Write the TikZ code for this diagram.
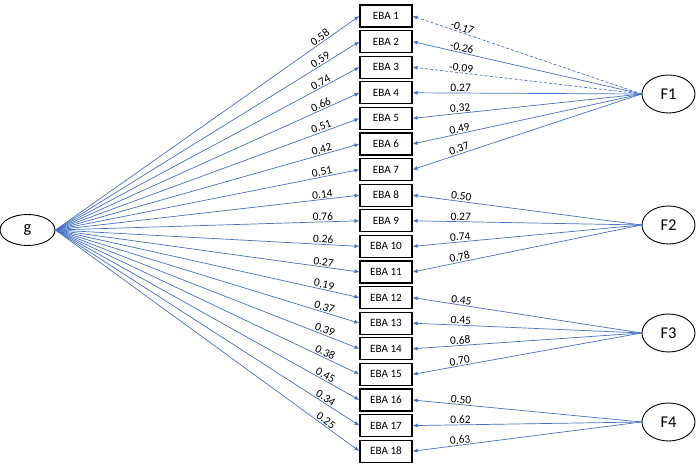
\documentclass[tikz,border=0pt]{standalone}
\usepackage{fontspec}
\setmainfont{Carlito}
\usepackage{tikz}
\usetikzlibrary{arrows.meta,positioning,shapes.geometric}
\definecolor{loadblue}{RGB}{68,114,196}
\tikzset{
  item/.style={draw=black, line width=1.1bp, minimum width=52bp, minimum height=22bp,
    inner sep=0pt, font=\fontsize{11.2}{13}\selectfont},
  latent/.style={draw=black, ellipse, line width=0.9bp, minimum width=53bp,
    minimum height=38bp, inner sep=0pt, font=\fontsize{16.5}{19}\selectfont},
  arr/.style={-{Latex[length=5bp,width=4bp]}, draw=loadblue, line width=0.7bp},
  darr/.style={arr, dash pattern=on 3bp off 2bp},
  lbl/.style={sloped, above, inner sep=1bp, font=\fontsize{11.5}{13}\selectfont},
  glbl/.style={lbl, pos=0.88},
  flbl/.style={lbl, pos=0.79}
}
\begin{document}
\begin{tikzpicture}[x=1bp, y=1bp]
  \useasboundingbox (0,0) rectangle (696,464);

  % indicators
  \node[item] (eba1) at (386,448) {EBA 1};
  \node[item, below=2.5bp of eba1] (eba2) {EBA 2};
  \node[item, below=2.5bp of eba2] (eba3) {EBA 3};
  \node[item, below=2.5bp of eba3] (eba4) {EBA 4};
  \node[item, below=2.5bp of eba4] (eba5) {EBA 5};
  \node[item, below=2.5bp of eba5] (eba6) {EBA 6};
  \node[item, below=2.5bp of eba6] (eba7) {EBA 7};
  \node[item, below=2.5bp of eba7] (eba8) {EBA 8};
  \node[item, below=2.5bp of eba8] (eba9) {EBA 9};
  \node[item, below=2.5bp of eba9] (eba10) {EBA 10};
  \node[item, below=2.5bp of eba10] (eba11) {EBA 11};
  \node[item, below=2.5bp of eba11] (eba12) {EBA 12};
  \node[item, below=2.5bp of eba12] (eba13) {EBA 13};
  \node[item, below=2.5bp of eba13] (eba14) {EBA 14};
  \node[item, below=2.5bp of eba14] (eba15) {EBA 15};
  \node[item, below=2.5bp of eba15] (eba16) {EBA 16};
  \node[item, below=2.5bp of eba16] (eba17) {EBA 17};
  \node[item, below=2.5bp of eba17] (eba18) {EBA 18};

  % latent factors
  \node[latent, minimum width=55bp, minimum height=31bp] (g) at (27.5,234) {g};
  \node[latent] (f1) at (668.5,370) {F1};
  \node[latent] (f2) at (668.5,239) {F2};
  \node[latent] (f3) at (668.5,131) {F3};
  \node[latent] (f4) at (668.5,42) {F4};

  % general factor loadings
  \draw[arr] (g.east) -- (eba1.west) node[glbl] {0.58};
  \draw[arr] (g.east) -- (eba2.west) node[glbl] {0.59};
  \draw[arr] (g.east) -- (eba3.west) node[glbl] {0.74};
  \draw[arr] (g.east) -- (eba4.west) node[glbl] {0.66};
  \draw[arr] (g.east) -- (eba5.west) node[glbl] {0.51};
  \draw[arr] (g.east) -- (eba6.west) node[glbl] {0.42};
  \draw[arr] (g.east) -- (eba7.west) node[glbl] {0.51};
  \draw[arr] (g.east) -- (eba8.west) node[glbl] {0.14};
  \draw[arr] (g.east) -- (eba9.west) node[glbl] {0.76};
  \draw[arr] (g.east) -- (eba10.west) node[glbl] {0.26};
  \draw[arr] (g.east) -- (eba11.west) node[glbl] {0.27};
  \draw[arr] (g.east) -- (eba12.west) node[glbl] {0.19};
  \draw[arr] (g.east) -- (eba13.west) node[glbl] {0.37};
  \draw[arr] (g.east) -- (eba14.west) node[glbl] {0.39};
  \draw[arr] (g.east) -- (eba15.west) node[glbl] {0.38};
  \draw[arr] (g.east) -- (eba16.west) node[glbl] {0.45};
  \draw[arr] (g.east) -- (eba17.west) node[glbl] {0.34};
  \draw[arr] (g.east) -- (eba18.west) node[glbl] {0.25};

  % specific factor loadings
  \draw[darr] (f1.west) -- (eba1.east) node[flbl] {-0.17};
  \draw[arr] (f1.west) -- (eba2.east) node[flbl] {-0.26};
  \draw[darr] (f1.west) -- (eba3.east) node[flbl] {-0.09};
  \draw[arr] (f1.west) -- (eba4.east) node[flbl] {0.27};
  \draw[arr] (f1.west) -- (eba5.east) node[flbl] {0.32};
  \draw[arr] (f1.west) -- (eba6.east) node[flbl] {0.49};
  \draw[arr] (f1.west) -- (eba7.east) node[flbl] {0.37};

  \draw[arr] (f2.west) -- (eba8.east) node[flbl] {0.50};
  \draw[arr] (f2.west) -- (eba9.east) node[flbl] {0.27};
  \draw[arr] (f2.west) -- (eba10.east) node[flbl] {0.74};
  \draw[arr] (f2.west) -- (eba11.east) node[flbl] {0.78};

  \draw[arr] (f3.west) -- (eba12.east) node[flbl] {0.45};
  \draw[arr] (f3.west) -- (eba13.east) node[flbl] {0.45};
  \draw[arr] (f3.west) -- (eba14.east) node[flbl] {0.68};
  \draw[arr] (f3.west) -- (eba15.east) node[flbl] {0.70};

  \draw[arr] (f4.west) -- (eba16.east) node[flbl] {0.50};
  \draw[arr] (f4.west) -- (eba17.east) node[flbl] {0.62};
  \draw[arr] (f4.west) -- (eba18.east) node[flbl] {0.63};
\end{tikzpicture}
\end{document}
